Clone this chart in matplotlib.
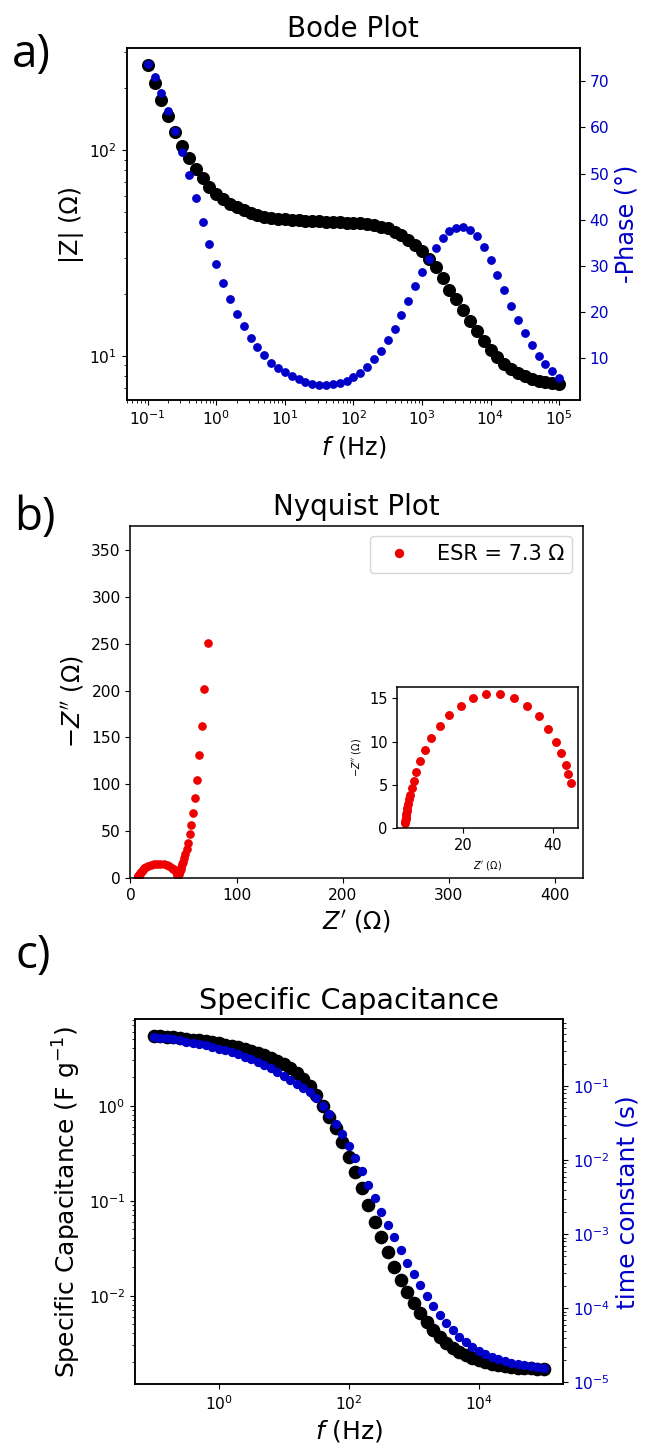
import matplotlib
matplotlib.use("Agg")
import matplotlib.pyplot as plt
from matplotlib.ticker import NullLocator, FixedLocator
import numpy as np

# ---------------- data ----------------
freq = [0.1, 0.1259, 0.1585, 0.1995, 0.2512, 0.3162, 0.3981, 0.5012, 0.631, 0.7943,
        1.0, 1.259, 1.585, 1.995, 2.512, 3.162, 3.981, 5.012, 6.31, 7.943,
        10.0, 12.59, 15.85, 19.95, 25.12, 31.62, 39.81, 50.12, 63.1, 79.43,
        100.0, 125.9, 158.5, 199.5, 251.2, 316.2, 398.1, 501.2, 631.0, 794.3,
        1000.0, 1259.0, 1585.0, 1995.0, 2512.0, 3162.0, 3981.0, 5012.0, 6310.0, 7943.0,
        10000.0, 12590.0, 15850.0, 19950.0, 25120.0, 31620.0, 39810.0, 50120.0, 63100.0, 79430.0,
        100000.0]

z_mod = [260.6, 211.9, 175.7, 146.2, 122.6, 104.9, 91.2, 81.0, 72.9, 66.5,
         61.5, 57.9, 55.0, 52.8, 51.1, 49.6, 48.5, 47.5, 46.9, 46.4,
         46.0, 45.7, 45.5, 45.3, 45.1, 45.0, 44.8, 44.7, 44.5, 44.3,
         44.2, 44.0, 43.7, 43.2, 42.5, 41.6, 40.2, 38.7, 36.7, 34.6,
         32.2, 29.6, 27.0, 23.9, 21.0, 18.8, 16.7, 14.8, 13.2, 11.8,
         10.7, 9.82, 9.12, 8.62, 8.24, 7.94, 7.71, 7.57, 7.43, 7.35,
         7.27]

phase = [73.6, 70.9, 67.4, 63.6, 59.3, 54.7, 49.7, 44.6, 39.6, 34.8,
         30.4, 26.3, 22.8, 19.7, 16.9, 14.5, 12.4, 10.8, 9.1, 8.0,
         7.1, 6.2, 5.45, 4.94, 4.5, 4.3, 4.22, 4.37, 4.73, 5.2,
         5.95, 6.9, 8.2, 9.8, 11.7, 13.9, 16.4, 19.35, 22.45, 25.7,
         28.6, 31.5, 33.8, 36.0, 37.5, 38.3, 38.4, 37.8, 36.4, 34.1,
         31.2, 28.1, 24.7, 21.4, 18.3, 15.4, 12.9, 10.6, 8.8, 7.2,
         5.8]

z_real = [73.5, 69.6, 67.2, 64.9, 62.6, 60.6, 58.7, 57.5, 56.0, 54.6,
          53.0, 51.9, 50.7, 49.7, 48.9, 48.0, 47.4, 46.6, 46.3, 45.9,
          45.4, 45.4, 45.3, 45.1, 45.0, 44.9, 44.7, 44.5, 44.3, 44.1,
          43.9, 43.4, 42.8, 41.7, 40.6, 38.9, 36.8, 34.3, 31.4, 28.3,
          25.2, 22.3, 19.5, 17.0, 15.0, 13.0, 11.6, 10.5, 9.6, 9.05,
          8.6, 8.2, 7.95, 7.75, 7.6, 7.5, 7.4, 7.3, 7.25, 7.2,
          7.15]

z_imag_neg = [250.3, 201.3, 161.9, 131.0, 105.1, 85.2, 69.9, 56.8, 46.9, 37.9,
              31.1, 25.6, 21.3, 17.8, 14.8, 12.3, 10.4, 9.0, 7.7, 6.7,
              5.8, 5.1, 4.5, 4.0, 3.6, 3.45, 3.45, 3.65, 3.95, 4.5,
              5.27, 6.23, 7.31, 8.65, 10.0, 11.46, 12.96, 14.1, 15.08, 15.46,
              15.46, 15.0, 14.15, 13.04, 11.8, 10.46, 9.04, 7.75, 6.5, 5.48,
              4.6, 3.9, 3.35, 2.85, 2.4, 2.0, 1.65, 1.35, 1.1, 0.85,
              0.65]

esr_label = "ESR = 7.3 Ω"
inset_min_freq = 100.0

spec_cap = [5.46, 5.39, 5.33, 5.24, 5.16, 5.07, 4.97, 4.87, 4.76, 4.64,
            4.53, 4.39, 4.25, 4.10, 3.93, 3.76, 3.58, 3.39, 3.18, 2.95,
            2.72, 2.47, 2.19, 1.91, 1.60, 1.29, 1.0, 0.766, 0.577, 0.418,
            0.290, 0.202, 0.135, 0.090, 0.060, 0.0418, 0.0286, 0.0202, 0.0146, 0.0108,
            0.0083, 0.00652, 0.00532, 0.00435, 0.0037, 0.00315, 0.0028, 0.00255, 0.00237, 0.00222,
            0.0021, 0.00199, 0.00191, 0.00185, 0.0018, 0.00177, 0.00175, 0.00173, 0.00172, 0.00171,
            0.00171]

tau = [0.459, 0.450, 0.439, 0.427, 0.414, 0.399, 0.385, 0.370, 0.353, 0.336,
       0.320, 0.304, 0.285, 0.268, 0.249, 0.232, 0.213, 0.194, 0.175, 0.156,
       0.138, 0.120, 0.105, 0.093, 0.082, 0.068, 0.0542, 0.0414, 0.0306, 0.0224,
       0.0156, 0.01054, 0.00703, 0.00459, 0.0031, 0.0020, 0.00135, 0.000902, 0.000608, 0.000414,
       0.000288, 0.000209, 0.000145, 0.000106, 8.2e-5, 6.4e-5, 5.15e-5, 4.1e-5, 3.51e-5, 3.0e-5,
       2.65e-5, 2.39e-5, 2.2e-5, 2.05e-5, 1.92e-5, 1.82e-5, 1.75e-5, 1.70e-5, 1.65e-5, 1.61e-5,
       1.58e-5]

phase_ticks = [10, 20, 30, 40, 50, 60, 70]
nyq_xticks = [0, 100, 200, 300, 400]
nyq_yticks = [0, 50, 100, 150, 200, 250, 300, 350]

# ---------------- style ----------------
BLUE = "#0000c8"
RED = "#ee0000"
TICK = 11.2
LAB = 17.3
TITLE = 20
plt.rcParams["font.family"] = ["DejaVu Sans"]
plt.rcParams["axes.linewidth"] = 1.1
plt.rcParams["xtick.labelsize"] = TICK
plt.rcParams["ytick.labelsize"] = TICK

W, H = 647, 1444
fig = plt.figure(figsize=(W / 100, H / 100), dpi=100)


def px_axes(l, r, t, b):
    return fig.add_axes([l / W, 1 - b / H, (r - l) / W, (b - t) / H])


f = np.array(freq)

# ---------------- a) Bode ----------------
axa = px_axes(126.7, 579.7, 48.3, 400.0)
axa.plot(f, z_mod, "o", color="black", ms=8.4, ls="none")
axa.set_xscale("log")
axa.set_yscale("log")
axa.set_xlim(10 ** -1.306, 10 ** 5.30)
axa.set_ylim(10 ** 0.785, 10 ** 2.495)
axa.set_xlabel("$f$ (Hz)", fontsize=LAB)
axa.set_ylabel("|Z| (Ω)", fontsize=LAB)
axa.set_title("Bode Plot", fontsize=TITLE, pad=8)
axa.xaxis.set_major_locator(FixedLocator([1e-1, 1, 1e1, 1e2, 1e3, 1e4, 1e5]))
axa2 = axa.twinx()
axa2.plot(f, phase, "o", color=BLUE, ms=5.3, ls="none")
axa2.set_ylim(0.99, 77.1)
axa2.set_yticks(phase_ticks)
axa2.tick_params(axis="y", labelcolor=BLUE)
axa2.set_ylabel("-Phase (°)", fontsize=LAB, color=BLUE)

# ---------------- b) Nyquist ----------------
axb = px_axes(130.4, 582.6, 525.7, 878.3)
axb.plot(z_real, z_imag_neg, "o", color=RED, ms=5.2, ls="none", label=esr_label)
axb.set_xlim(0, 426)
axb.set_ylim(0, 375.6)
axb.set_xticks(nyq_xticks)
axb.set_yticks(nyq_yticks)
axb.set_xlabel("$Z'$ (Ω)", fontsize=LAB)
axb.set_ylabel("$-Z''$ (Ω)", fontsize=LAB)
axb.set_title("Nyquist Plot", fontsize=TITLE, pad=7.7)
axb.legend(loc="upper right", fontsize=15, handlelength=2.0, markerscale=1.1)

mask = f >= inset_min_freq
axi = px_axes(397.4, 577.7, 687.3, 828.3)
axi.plot(np.array(z_real)[mask], np.array(z_imag_neg)[mask], "o", color=RED,
         ms=5.4, ls="none")
axi.set_xlim(5.42, 45.5)
axi.set_ylim(0, 16.27)
axi.set_xticks([20, 40])
axi.set_yticks([0, 5, 10, 15])
axi.tick_params(labelsize=10.5)
axi.set_xlabel("$Z'$ (Ω)", fontsize=7)
axi.set_ylabel("$-Z''$ (Ω)", fontsize=7)

# ---------------- c) Specific capacitance ----------------
axc = px_axes(135.3, 563.2, 1019.3, 1384.3)
axc.plot(f, spec_cap, "o", color="black", ms=8.8, ls="none")
axc.set_xscale("log")
axc.set_yscale("log")
axc.set_xlim(10 ** -1.283, 10 ** 5.30)
axc.set_ylim(10 ** -2.933, 10 ** 0.909)
axc.xaxis.set_major_locator(FixedLocator([1, 1e2, 1e4]))
axc.xaxis.set_minor_locator(NullLocator())
axc.set_xlabel("$f$ (Hz)", fontsize=18)
axc.set_ylabel("Specific Capacitance (F g$^{-1}$)", fontsize=18)
axc.set_title("Specific Capacitance", fontsize=20.7, pad=7.2)
axc2 = axc.twinx()
axc2.plot(f, tau, "o", color=BLUE, ms=5.7, ls="none")
axc2.set_yscale("log")
axc2.set_ylim(10 ** -5.027, 10 ** -0.099)
axc2.tick_params(axis="y", which="both", labelcolor=BLUE)
axc2.set_ylabel("time constant (s)", fontsize=18, color=BLUE)

# ---------------- panel letters ----------------
for lab, x, y in [("a)", 12, 67), ("b)", 14, 530), ("c)", 15, 968)]:
    fig.text(x / W, 1 - y / H, lab, fontsize=33, family=["Open Sans", "DejaVu Sans"],
             ha="left", va="baseline")

fig.savefig("out.png", dpi=100)
